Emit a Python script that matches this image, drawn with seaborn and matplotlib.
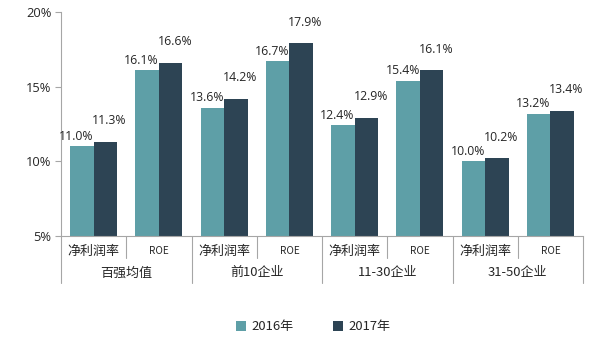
import matplotlib
matplotlib.use("Agg")
import matplotlib.pyplot as plt
import matplotlib.transforms as mtransforms
from matplotlib.patches import Patch
import seaborn as sns
import pandas as pd

# Profitability of the top-100 property developers, by tier
groups = ["百强均值", "前10企业", "11-30企业", "31-50企业"]
metrics = ["净利润率", "ROE"]
years = ["2016年", "2017年"]
values_2016 = [11.0, 16.1, 13.6, 16.7, 12.4, 15.4, 10.0, 13.2]
values_2017 = [11.3, 16.6, 14.2, 17.9, 12.9, 16.1, 10.2, 13.4]
y_ticks = [5, 10, 15, 20]

colors = ["#5E9FA7", "#2D4454"]
text_color = "#262626"
line_color = "#A6A6A6"

slots = [f"{g}|{m}" for g in groups for m in metrics]
df = pd.DataFrame({
    "slot": slots * 2,
    "year": [years[0]] * len(slots) + [years[1]] * len(slots),
    "value": values_2016 + values_2017,
})

sns.set_theme(style="white")
plt.rcParams["font.family"] = ["Noto Sans CJK SC", "DejaVu Sans"]

fig = plt.figure(figsize=(6.0, 3.42), dpi=100)
ax = fig.add_axes([0.1017, 0.31, 0.87, 0.655])

sns.barplot(data=df, x="slot", y="value", hue="year", order=slots,
            hue_order=years, palette=colors, width=0.72, saturation=1,
            edgecolor="none", legend=False, ax=ax)

# Value labels above each bar
for i, cont in enumerate(ax.containers):
    dx = -4 if i == 0 else 3
    dy = 2.5 if i == 0 else 10.5
    for bar, v in zip(cont, values_2016 if i == 0 else values_2017):
        ax.annotate(f"{v:.1f}%", (bar.get_x() + bar.get_width() / 2, v),
                    xytext=(dx, dy), textcoords="offset points",
                    ha="center", va="bottom", fontsize=8.8,
                    color=text_color, family=["Open Sans", "DejaVu Sans"])

ax.set_ylim(5, 20)
ax.set_xlim(-0.5, len(slots) - 0.5)
ax.set_yticks(y_ticks)
ax.set_yticklabels([f"{t}%" for t in y_ticks], fontsize=9.3, color=text_color,
                   family=["Open Sans", "DejaVu Sans"])
ax.set_xticks([])
ax.set_xlabel("")
ax.set_ylabel("")
ax.tick_params(axis="y", which="both", left=True, length=4, width=0.8,
               color=line_color, pad=3)

for side in ["top", "right"]:
    ax.spines[side].set_visible(False)
for side in ["left", "bottom"]:
    ax.spines[side].set_color(line_color)
    ax.spines[side].set_linewidth(0.8)

# Two-level category axis
trans = mtransforms.blended_transform_factory(ax.transData, ax.transAxes)
for k in range(len(slots) + 1):
    x = k - 0.5
    y_end = -0.21 if k % 2 == 0 else -0.098
    ax.plot([x, x], [0, y_end], transform=trans, color=line_color,
            lw=0.8, clip_on=False)

for k, s in enumerate(slots):
    m = s.split("|")[1]
    if m == "ROE":
        ax.text(k, -0.067, m, transform=trans, ha="center", va="center",
                fontsize=7.2, color=text_color)
    else:
        ax.text(k, -0.067, m, transform=trans, ha="center", va="center",
                fontsize=9.4, color=text_color)

for j, g in enumerate(groups):
    ax.text(2 * j + 0.5, -0.165, g, transform=trans, ha="center",
            va="center", fontsize=9.4, color=text_color)

handles = [Patch(facecolor=c, edgecolor="none") for c in colors]
fig.legend(handles, years, loc="center", bbox_to_anchor=(0.522, 0.045),
           ncol=2, frameon=False, fontsize=9.4, handlelength=0.8,
           handleheight=0.8, handletextpad=0.4, columnspacing=3.0,
           labelcolor=text_color)

fig.savefig("out.png", dpi=100)
